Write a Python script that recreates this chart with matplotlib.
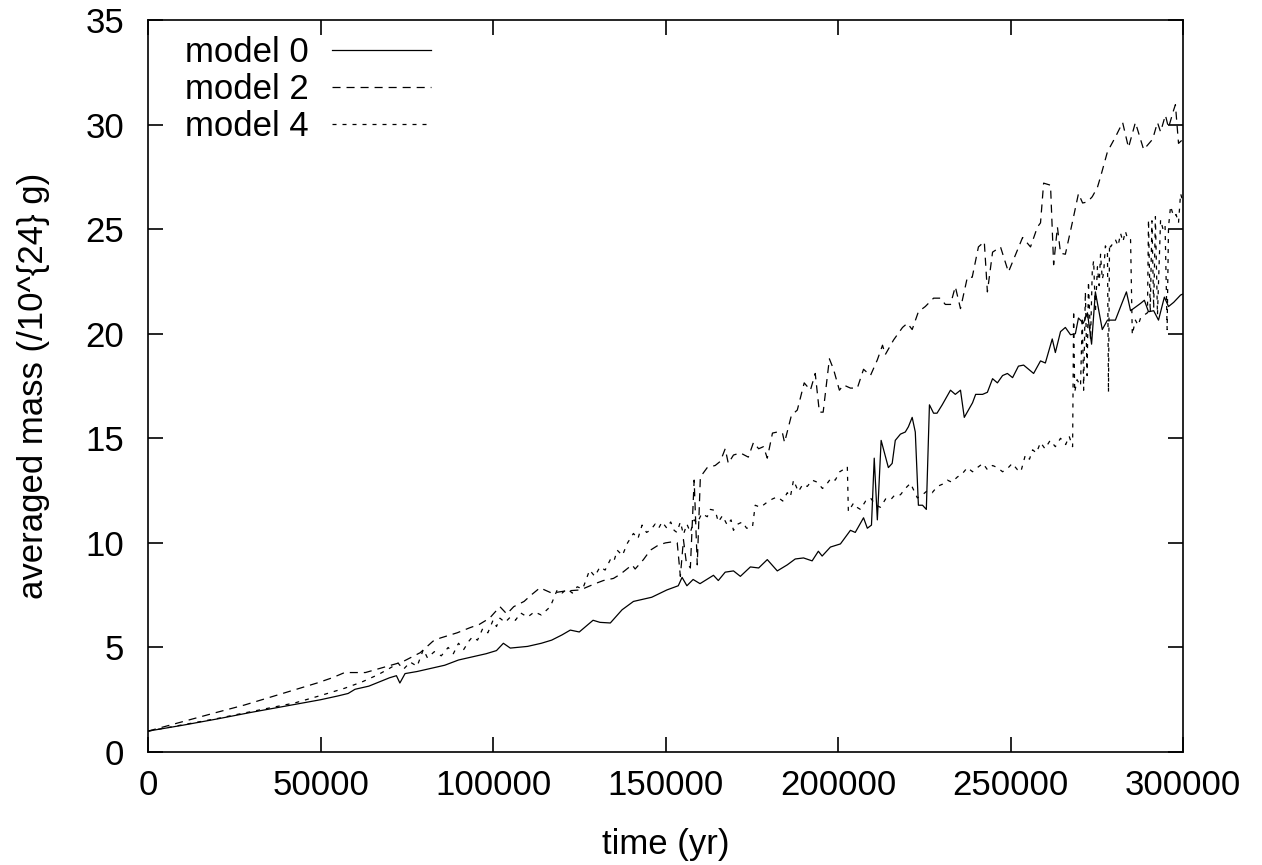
import numpy as np
import matplotlib
matplotlib.use("Agg")
import matplotlib.pyplot as plt

plt.rcParams['font.family'] = ['Liberation Sans', 'DejaVu Sans']
plt.rcParams['lines.scale_dashes'] = False

# model 0 (solid)
t0 = [0, 10000, 20000, 30000, 40000, 50000, 55000, 58000, 60000, 64000,
      67000, 70000, 72000, 73000, 74500, 78000, 82000, 86000, 90000, 94000,
      98000, 101000, 103000, 105000, 110000, 114000, 117000, 120000, 122400, 125000,
      129000, 131000, 134000, 137400, 140700, 146000, 150400, 153700, 154800, 156200,
      158000, 160000, 163900, 165300, 167300, 169700, 171700, 174600, 177000, 179500,
      182400, 185300, 187600, 190000, 192500, 194300, 195400, 197800, 200700, 203600,
      205000, 207400, 208500, 209700, 210500, 211400, 212500, 214600, 215700, 216600,
      218100, 219500, 220400, 221500, 222400, 223300, 224500, 225600, 226500, 227700,
      228700, 230200, 232600, 234000, 235500, 236600, 239000, 239900, 241900, 243300,
      244800, 246200, 247700, 249100, 250600, 252300, 253800, 256700, 258700, 260100,
      262100, 263000, 264500, 265900, 267400, 268800, 269700, 271100, 272300, 273500,
      274600, 276600, 278100, 280400, 282400, 283600, 284800, 287700, 288800, 290000,
      291500, 292900, 294600, 295800, 297300, 299300, 300000]
m0 = [1.0, 1.28, 1.58, 1.9, 2.2, 2.5, 2.68, 2.8, 3.0, 3.15,
      3.35, 3.55, 3.65, 3.3, 3.75, 3.85, 4.0, 4.15, 4.4, 4.55,
      4.7, 4.85, 5.2, 4.97, 5.05, 5.2, 5.35, 5.6, 5.83, 5.74,
      6.3, 6.2, 6.17, 6.8, 7.2, 7.4, 7.75, 7.95, 8.35, 7.95,
      8.25, 8.05, 8.45, 8.2, 8.6, 8.66, 8.4, 8.85, 8.8, 9.2,
      8.66, 8.95, 9.23, 9.28, 9.14, 9.6, 9.37, 9.8, 9.95, 10.6,
      10.5, 11.2, 10.7, 10.85, 14.05, 11.1, 14.9, 13.6, 13.8, 14.9,
      15.2, 15.3, 15.55, 16.0, 15.3, 11.8, 11.8, 11.6, 16.6, 16.2,
      16.2, 16.6, 17.3, 17.1, 17.3, 16.0, 16.7, 17.1, 17.1, 17.2,
      17.85, 17.65, 18.0, 18.1, 17.9, 18.45, 18.5, 18.1, 18.7, 18.6,
      19.75, 19.1, 20.1, 20.3, 19.95, 20.0, 20.75, 20.5, 21.0, 19.5,
      22.0, 20.2, 20.65, 20.65, 21.5, 22.0, 21.1, 21.45, 21.6, 21.05,
      21.1, 20.65, 21.75, 21.3, 21.5, 21.85, 21.9]

# model 2 (long dashes)
t2 = [0, 10000, 20000, 28000, 38000, 49000, 53400, 57000, 63000, 68700,
      73600, 78900, 82600, 84700, 89600, 93400, 96000, 99000, 102000, 104000,
      106000, 109000, 111000, 113600, 117000, 121000, 125300, 129600, 132000, 134900,
      136900, 140300, 141200, 143600, 145600, 148000, 150000, 152000, 153400, 154300,
      155200, 156000, 157200, 158300, 159200, 160100, 162100, 164400, 165900, 167300,
      168200, 169700, 171700, 174000, 175500, 177000, 178400, 179500, 181000, 182400,
      183900, 184500, 186500, 188200, 190200, 192000, 193400, 194600, 195700, 197500,
      198700, 200400, 201600, 203600, 205600, 207400, 209400, 211400, 212900, 213700,
      216100, 218700, 220100, 221500, 223300, 225300, 227700, 229700, 231100, 232600,
      234000, 235500, 237500, 238900, 240700, 242400, 243300, 244800, 247100, 249400,
      252000, 253500, 255800, 257800, 258700, 259600, 261600, 262500, 263600, 264500,
      265900, 267900, 269700, 270900, 272300, 273700, 275200, 276100, 278100, 280400,
      282500, 284200, 286200, 288600, 291200, 292600, 293500, 294900, 295800, 297300,
      297800, 298700, 300000]
m2 = [1.0, 1.45, 1.9, 2.25, 2.75, 3.3, 3.55, 3.8, 3.8, 4.07,
      4.3, 4.75, 5.3, 5.45, 5.7, 5.95, 6.1, 6.4, 6.95, 6.6,
      6.95, 7.2, 7.5, 7.85, 7.6, 7.7, 7.75, 8.05, 8.2, 8.3,
      8.5, 8.95, 8.75, 9.2, 9.65, 9.9, 10.0, 10.05, 10.0, 8.4,
      10.15, 9.1, 8.8, 13.0, 8.95, 13.15, 13.6, 13.7, 13.9, 14.5,
      13.8, 14.2, 14.3, 14.1, 14.8, 14.5, 14.6, 14.05, 15.25, 15.3,
      15.25, 14.8, 16.1, 16.35, 17.65, 17.3, 18.1, 16.25, 16.25, 18.8,
      18.3, 17.3, 17.55, 17.4, 17.4, 18.3, 18.0, 18.75, 19.45, 19.0,
      19.7, 20.3, 20.5, 20.2, 21.05, 21.3, 21.7, 21.7, 21.4, 21.4,
      22.25, 21.2, 22.7, 22.7, 24.15, 24.4, 22.0, 23.9, 24.15, 22.95,
      24.0, 24.6, 24.15, 25.1, 25.3, 27.2, 27.1, 23.3, 25.1, 23.85,
      23.8, 25.3, 26.7, 26.25, 26.3, 26.55, 27.0, 27.5, 28.7, 29.4,
      30.1, 28.9, 30.1, 28.8, 29.3, 30.1, 29.65, 30.45, 29.85, 30.7,
      30.95, 29.1, 29.3]

# model 4 (short dashes)
t4 = [0, 10000, 20000, 28000, 35000, 42600, 50000, 57000, 62000, 66700,
      70000, 72500, 74000, 76000, 78000, 79800, 81000, 83000, 85000, 87000,
      88500, 90000, 91500, 93000, 94000, 95500, 97000, 98500, 100000, 101000,
      102000, 103500, 105000, 106500, 108000, 110000, 112000, 114000, 116600, 118600,
      120000, 121500, 123000, 124400, 126000, 128000, 129500, 131000, 132500, 134000,
      135000, 136000, 137500, 139000, 140700, 142000, 143200, 144500, 145600, 147000,
      148000, 149000, 150400, 151500, 152500, 153300, 154300, 155200, 156200, 157200,
      158300, 159200, 160500, 162100, 163000, 164400, 165300, 166500, 167900, 169000,
      169700, 171000, 172300, 173500, 175200, 176000, 177500, 179500, 181000, 182400,
      184000, 185300, 186200, 187100, 188500, 189800, 191100, 192500, 194000, 195500,
      196900, 198000, 199200, 200500, 201500, 202700, 203000, 204500, 205500, 206500,
      208000, 209400, 211000, 212300, 213800, 215200, 216500, 218100, 219500, 221000,
      222000, 223000, 224500, 225900, 227300, 228800, 230200, 231700, 233000, 234600,
      236000, 237500, 239000, 240400, 242000, 243300, 244800, 246200, 247700, 249100,
      250500, 252000, 253000, 254300, 255500, 256400, 257500, 258700, 260000, 261500,
      263000, 264500, 266000, 267000, 268000, 268300, 268600, 269300, 270300, 270800,
      271200, 271700, 272200, 272600, 273200, 273700, 274100, 274600, 275200, 275700,
      276100, 276600, 277000, 277500, 278100, 278400, 278700, 279000, 280400, 281200,
      281900, 282600, 283300, 284000, 284800, 285300, 286200, 287000, 287700, 288800,
      289700, 290000, 290500, 291000, 291500, 292000, 292600, 293500, 294200, 294800,
      295400, 295800, 296400, 297300, 298000, 298700, 299300, 300000]
m4 = [1.0, 1.3, 1.6, 1.87, 2.1, 2.35, 2.7, 3.05, 3.35, 3.7,
      4.0, 4.25, 3.95, 4.3, 4.1, 4.9, 4.5, 4.8, 4.6, 5.0,
      4.7, 5.2, 4.9, 5.3, 5.5, 5.35, 5.9, 5.7, 6.3, 6.0,
      6.4, 6.2, 6.45, 6.3, 6.65, 6.45, 6.7, 6.55, 6.95, 7.75,
      7.6, 7.8, 7.6, 7.9, 7.8, 8.7, 8.4, 8.85, 8.7, 9.2,
      9.1, 9.65, 9.4, 10.0, 10.45, 10.2, 10.85, 10.5, 10.6, 10.9,
      10.7, 11.0, 10.7, 11.0, 10.6, 10.5, 11.0, 10.4, 10.9, 10.5,
      11.1, 10.95, 11.4, 11.25, 11.6, 11.55, 11.0, 11.3, 10.85, 11.1,
      10.6, 10.9, 11.0, 10.7, 10.75, 11.8, 11.7, 11.95, 12.1, 12.2,
      12.0, 12.4, 12.2, 13.0, 12.45, 12.8, 12.7, 13.0, 12.9, 12.6,
      12.85, 13.1, 13.0, 13.4, 13.5, 13.65, 11.5, 11.9, 11.7, 11.6,
      12.0, 12.15, 11.8, 11.7, 12.1, 12.05, 12.3, 12.3, 12.6, 12.85,
      12.5, 12.15, 12.3, 12.5, 12.4, 12.7, 12.8, 13.0, 12.9, 13.15,
      13.3, 13.6, 13.4, 13.6, 13.8, 13.5, 13.7, 13.6, 13.4, 13.55,
      13.8, 13.5, 13.4, 14.2, 14.0, 14.45, 14.3, 14.8, 14.5, 14.9,
      14.6, 15.0, 14.7, 15.1, 14.6, 21.1, 17.2, 17.8, 17.5, 20.8,
      17.3, 22.0, 18.0, 22.5, 19.7, 23.0, 23.5, 21.0, 23.2, 22.3,
      23.8, 22.6, 22.9, 24.2, 24.0, 17.2, 24.3, 24.15, 24.5, 24.2,
      24.8, 24.4, 24.9, 24.5, 24.5, 19.95, 20.65, 20.4, 20.75, 20.9,
      21.0, 25.45, 21.0, 25.4, 21.2, 25.6, 20.9, 25.45, 25.0, 25.2,
      20.2, 25.1, 26.1, 25.6, 25.7, 25.3, 26.7, 26.3]

labels = ["model 0", "model 2", "model 4"]
xticks = [0, 50000, 100000, 150000, 200000, 250000, 300000]
yticks = [0, 5, 10, 15, 20, 25, 30, 35]

fig = plt.figure(figsize=(12.62, 8.65), dpi=100)
fig.subplots_adjust(left=0.1173, right=0.9374, bottom=0.1306, top=0.9769)
ax = fig.add_subplot(111)

lw = 0.9
ax.plot(t0, m0, color='black', lw=lw, label=labels[0])
ax.plot(t2, m2, color='black', lw=lw, dashes=(5.8, 4.3), label=labels[1])
ax.plot(t4, m4, color='black', lw=lw, dashes=(2.9, 4.3), label=labels[2])

ax.set_xlim(0, 300000)
ax.set_ylim(0, 35)
ax.set_xticks(xticks)
ax.set_yticks(yticks)
ax.tick_params(direction='in', length=11, width=1.2, top=True, right=True,
               labelsize=25)
ax.tick_params(axis='x', pad=12)
ax.tick_params(axis='y', pad=17)
for s in ax.spines.values():
    s.set_linewidth(1.2)

ax.set_xlabel("time (yr)", fontsize=25, labelpad=19)
ax.set_ylabel("averaged mass (/10^{24} g)", fontsize=25, labelpad=26)

ax.legend(loc='upper left', bbox_to_anchor=(0.036, 0.978), frameon=False,
          markerfirst=False, fontsize=25, handlelength=2.85, handletextpad=0.66,
          labelspacing=0.11, borderpad=0, borderaxespad=0)

fig.savefig("out.png", dpi=100)
